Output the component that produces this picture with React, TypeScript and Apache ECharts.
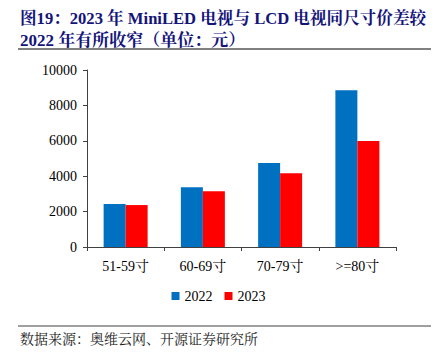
import React, { useEffect, useRef } from "react";
import * as echarts from "echarts";

const categories = ["51-59寸", "60-69寸", "70-79寸", ">=80寸"];
const series2022 = [2430, 3370, 4750, 8850];
const series2023 = [2370, 3150, 4160, 5990];
const yTicks = { min: 0, max: 10000, interval: 2000 };
const titleLine1 = "图19：2023 年 MiniLED 电视与 LCD 电视同尺寸价差较";
const titleLine2 = "2022 年有所收窄（单位：元）";
const sourceText = "数据来源：奥维云网、开源证券研究所";

const SERIF = "'Liberation Serif', 'Times New Roman', 'Noto Serif CJK SC', 'Noto Sans CJK SC', serif";

export default function App() {
  const ref = useRef<HTMLDivElement>(null);
  useEffect(() => {
    if (!ref.current) return;
    const chart = echarts.init(ref.current, undefined, { renderer: "svg" });
    chart.setOption({
      animation: false,
      backgroundColor: "#ffffff",
      grid: { left: 87, right: 41, top: 70, bottom: 107 },
      legend: {
        data: ["2022", "2023"],
        bottom: 46,
        left: "center",
        itemWidth: 8,
        itemHeight: 8,
        itemGap: 12,
        icon: "rect",
        textStyle: { fontFamily: SERIF, fontSize: 14, color: "#000" },
      },
      xAxis: {
        type: "category",
        data: categories,
        axisLine: { lineStyle: { color: "#404040", width: 1 } },
        axisTick: { show: true, alignWithLabel: false, length: 4, lineStyle: { color: "#404040" } },
        axisLabel: { fontFamily: SERIF, fontSize: 14, color: "#000", margin: 12 },
      },
      yAxis: {
        type: "value",
        min: yTicks.min,
        max: yTicks.max,
        interval: yTicks.interval,
        splitLine: { show: false },
        axisLine: { show: true, lineStyle: { color: "#404040", width: 1 } },
        axisTick: { show: true, length: 4, lineStyle: { color: "#404040" } },
        axisLabel: {
          fontFamily: SERIF,
          fontSize: 14,
          color: "#000",
          margin: 10,
          formatter: (v: number) => String(v),
        },
      },
      series: [
        {
          name: "2022",
          type: "bar",
          data: series2022,
          barWidth: 22,
          barGap: "0%",
          itemStyle: { color: "#0070C0" },
        },
        {
          name: "2023",
          type: "bar",
          data: series2023,
          barWidth: 22,
          barGap: "0%",
          itemStyle: { color: "#FF0000" },
        },
      ],
      graphic: [
        {
          type: "text",
          left: 20,
          top: 10,
          style: {
            text: titleLine1,
            font: `bold 16.6px ${SERIF}`,
            fill: "#14147a",
          },
        },
        {
          type: "text",
          left: 20,
          top: 32,
          style: {
            text: titleLine2,
            font: `bold 17px ${SERIF}`,
            fill: "#14147a",
          },
        },
        {
          type: "line",
          shape: { x1: 18, y1: 49, x2: 431, y2: 49 },
          style: { stroke: "#808080", lineWidth: 2 },
        },
        {
          type: "line",
          shape: { x1: 18, y1: 326, x2: 431, y2: 326 },
          style: { stroke: "#404040", lineWidth: 1 },
        },
        {
          type: "text",
          left: 20,
          top: 332,
          style: {
            text: sourceText,
            font: `14px ${SERIF}`,
            fill: "#222",
          },
        },
      ],
    });
    return () => chart.dispose();
  }, []);
  return (
    <div
      ref={ref}
      style={{ position: "absolute", left: 0, top: 0, width: 437, height: 354 }}
    />
  );
}
